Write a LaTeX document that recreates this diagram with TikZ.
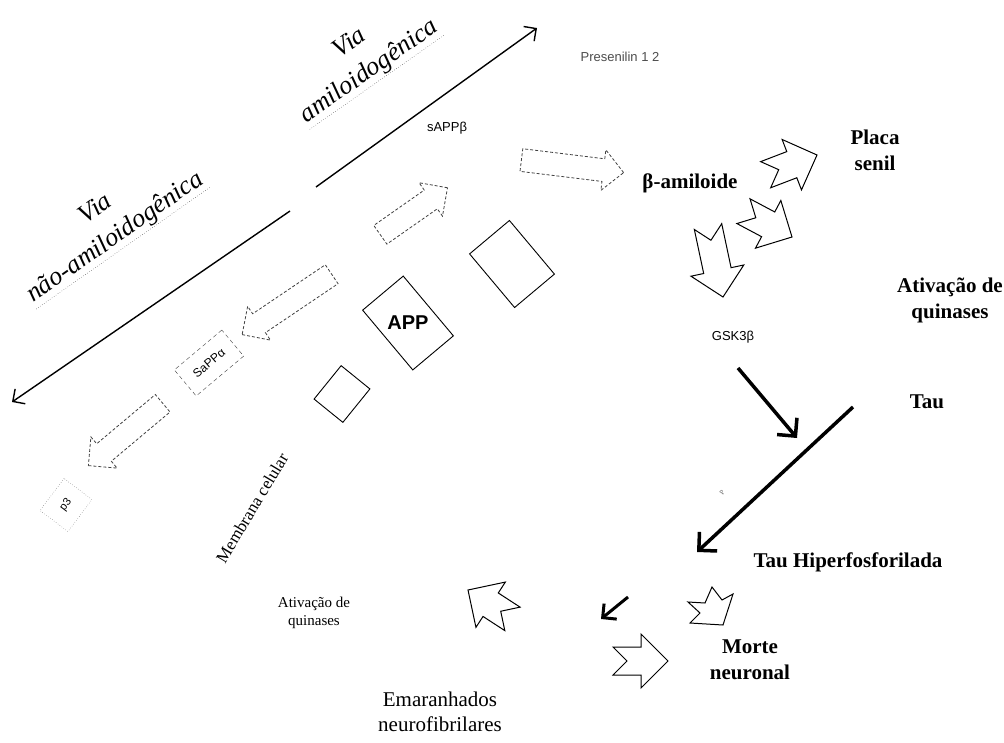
\documentclass[tikz,border=0pt]{standalone}
\usepackage{fontspec}
\setmainfont{Liberation Serif}
\setsansfont{Liberation Sans}
\usetikzlibrary{arrows.meta,shapes.arrows,calc}

\begin{document}
\begin{tikzpicture}[x=1pt,y=-1pt,
    via/.style={font=\itshape\fontsize{26}{34}\selectfont, rotate=35, inner sep=1pt, align=center},
    bigb/.style={font=\bfseries\fontsize{21}{26}\selectfont, align=center},
    reg/.style={font=\fontsize{21}{25}\selectfont, align=center},
    small/.style={font=\fontsize{15}{18}\selectfont, align=center},
    sf/.style={font=\sffamily\fontsize{13}{15}\selectfont},
    blk/.style={single arrow, draw=black!75, dash pattern=on 3pt off 2pt, line width=0.8pt,
        inner sep=0pt, inner ysep=11pt, single arrow head extend=9pt, anchor=tail},
    box/.style={draw, rectangle, line width=0.9pt, inner sep=0pt},
    long/.style={line width=1.4pt, -{Straight Barb[length=9pt,width=18pt]}},
    heavy/.style={line width=3.5pt, -{Straight Barb[length=13pt,width=26pt]}},
    notch len/.store in=\notchlen, notch len=55,
    notch/.pic={\draw[line width=1pt, line join=miter] (0,0) -- (-27,27) -- (-27,14) -- (-\notchlen,14)
        -- (-\notchlen+14,0) -- (-\notchlen,-14) -- (-27,-14) -- (-27,-27) -- cycle;}
    ]
  \useasboundingbox (0,0) rectangle (1004,742);

  % the two pathways
  \node[via] (amil) at (360,58) {Via\\amiloidogênica};
  \draw[dotted] (amil.south west) -- (amil.south east);
  \node[via] (namil) at (106,224) {Via\\não-amiloidogênica};
  \draw[dotted] (namil.south west) -- (namil.south east);
  \coordinate (up0) at (316,187);
  \coordinate (up1) at (537,28);
  \coordinate (dn0) at (290,211);
  \coordinate (dn1) at (12,402);
  \draw[long] (up0) -- (up1);
  \draw[long] (dn0) -- (dn1);

  % membrane, APP and fragments
  \node[box, rotate=-50, minimum width=78, minimum height=53] (appbox) at (408,323) {};
  \node[font=\sffamily\bfseries\fontsize{20}{22}\selectfont] (app) at (408,323) {APP};
  \node[box, rotate=51, minimum width=43, minimum height=37] (frag1) at (342,394) {};
  \node[box, rotate=-50, minimum width=70, minimum height=52] (frag2) at (512,264) {};
  \node[font=\fontsize{17}{20}\selectfont, rotate=59] (memb) at (252,508) {Membrana celular};

  \node[blk, rotate=35, minimum height=82] (toab) at (380,235) {};
  \node[blk, rotate=-7, minimum height=103] (tobeta) at (521,160) {};
  \node[blk, rotate=-146, minimum height=108] (toaa) at (332,274) {};
  \node[blk, rotate=-140, minimum height=97] (top3) at (163,403) {};

  \node[sf] (sappb) at (447,128) {sAPPβ};
  \node[sf, text=black!70] (pres) at (620,57) {Presenilin 1 2};
  \node[draw=black!75, dash pattern=on 4pt off 3pt, rotate=40, minimum width=62, minimum height=34,
        font=\sffamily\fontsize{12}{14}\selectfont] (sappa) at (209,363) {SaPPα};
  \node[draw=black!75, dotted, rotate=53, minimum width=40, minimum height=35,
        font=\sffamily\fontsize{11}{13}\selectfont] (p3) at (66,505) {p3};

  % amyloid cascade
  \node[bigb] (beta) at (690,183) {β-amiloide};
  \node[bigb] (placa) at (875,150) {Placa\\senil};
  \node[bigb, inner sep=0pt] (quin) at (950,300) {Ativação de\\quinases};
  \pic (n1) [rotate=21] at (817,155) {notch};
  \pic (n2) [rotate=-28] at (792,237) {notch};
  \pic (n3) [rotate=-78, notch len=72] at (723,297) {notch};

  \node[sf] (gsk) at (733,337) {GSK3β};
  \node[bigb] (tau) at (927,402) {Tau};
  \node[bigb] (tauh) at (848,562) {Tau Hiperfosforilada};
  \node[rotate=55, font=\fontsize{7}{7}\selectfont, text=black!60] (pp) at (722,493) {P};
  \coordinate (gsk0) at (738,368);
  \coordinate (gsk1) at (797,438);
  \coordinate (tau0) at (853,407);
  \coordinate (tau1) at (697,552);
  \draw[heavy] (gsk0) -- (gsk1);
  \draw[heavy] (tau0) -- (tau1);

  \node[bigb] (morte) at (750,660) {Morte\\neuronal};
  \node[reg] (emar) at (440,712) {Emaranhados\\neurofibrilares};
  \node[small] (quin2) at (314,613) {Ativação de\\quinases};
  \pic (n4) [rotate=147, notch len=53] at (468,590) {notch};
  \pic (n5) at (668,661) {notch};
  \draw[line width=1pt] (688,602) -- (705,603) -- (712,587) -- (722,600) -- (733,594)
      -- (723,625) -- (690,623) -- (700,613) -- cycle;
  \coordinate (sm0) at (628,597);
  \coordinate (sm1) at (601,619);
  \draw[line width=3pt, -{Straight Barb[length=10pt,width=20pt]}] (sm0) -- (sm1);
\end{tikzpicture}
\end{document}
